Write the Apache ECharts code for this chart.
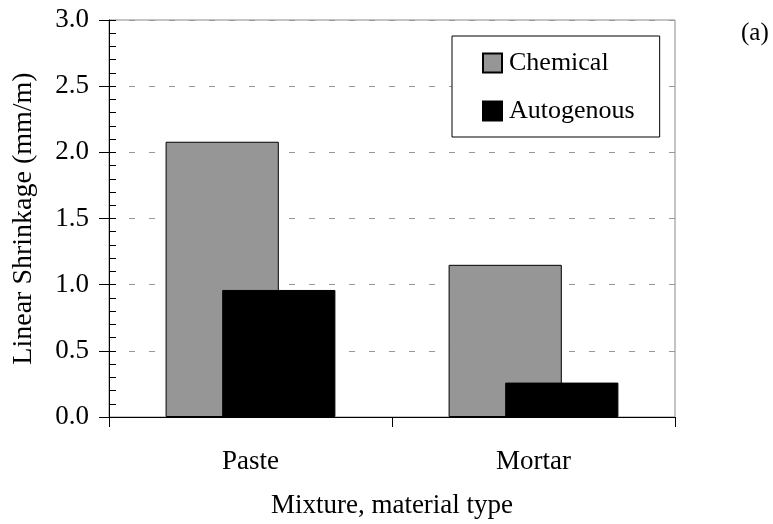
<!DOCTYPE html>
<html>
<head>
<meta charset="utf-8">
<script src="https://cdn.jsdelivr.net/npm/echarts@6/dist/echarts.min.js"></script>
<style>
  html, body { margin: 0; padding: 0; background: #fff; }
  #chart { width: 773px; height: 524px; }
</style>
</head>
<body>
<div id="chart"></div>
<script>
// data
const categories = ['Paste', 'Mortar']
const chemical = [2.08, 1.15]
const autogenous = [0.96, 0.26]
const seriesNames = ['Chemical', 'Autogenous']

const font = 'Liberation Serif'

const chart = echarts.init(document.getElementById('chart'))

chart.setOption({
  backgroundColor: '#fff',
  animation: false,
  textStyle: { fontFamily: font, color: '#000' },
  grid: {
    left: 109,
    right: 98,
    top: 20,
    bottom: 107,
    outerBoundsMode: 'none',
    show: true,
    borderColor: '#8a8a8a',
    borderWidth: 1
  },
  legend: {
    data: seriesNames,
    orient: 'vertical',
    left: 452,
    top: 36,
    width: 206,
    padding: [14, 25, 13, 30],
    itemGap: 22,
    itemWidth: 19,
    itemHeight: 19,
    icon: 'rect',
    backgroundColor: '#fff',
    borderColor: '#000',
    borderWidth: 1,
    textStyle: { fontFamily: font, fontSize: 26, color: '#000', padding: [0, 0, 0, 2] }
  },
  graphic: [{
    type: 'text',
    left: 741,
    top: 21,
    style: { text: '(a)', font: '25px "Liberation Serif"', fill: '#000' }
  }],
  xAxis: {
    type: 'category',
    data: categories,
    name: 'Mixture, material type',
    nameLocation: 'middle',
    nameGap: 75,
    nameTextStyle: { fontFamily: font, fontSize: 27, color: '#000' },
    axisLine: { lineStyle: { color: '#000', width: 1 } },
    axisTick: { show: true, length: 10, lineStyle: { color: '#000' } },
    axisLabel: { margin: 31, fontFamily: font, fontSize: 27, color: '#000' },
    splitLine: { show: false }
  },
  yAxis: [{
    type: 'value',
    min: 0,
    max: 3,
    interval: 0.5,
    name: 'Linear Shrinkage (mm/m)',
    nameLocation: 'middle',
    nameGap: 71,
    nameTextStyle: { fontFamily: font, fontSize: 28, color: '#000' },
    axisLine: { show: true, lineStyle: { color: '#000', width: 1 } },
    axisTick: { show: true, length: 10, lineStyle: { color: '#000' } },
    axisLabel: {
      margin: 20,
      fontFamily: font,
      fontSize: 27,
      color: '#000',
      formatter: v => v.toFixed(1)
    },
    splitLine: { show: true, lineStyle: { color: '#999', type: [6, 14], width: 1 } }
  }, {
    // inside minor ticks every 0.1
    type: 'value',
    position: 'left',
    min: 0,
    max: 3,
    interval: 0.1,
    axisLine: { show: false },
    axisTick: { show: true, inside: true, length: 7, lineStyle: { color: '#000' } },
    axisLabel: { show: false },
    splitLine: { show: false }
  }],
  series: [{
    name: seriesNames[0],
    type: 'bar',
    data: chemical,
    barWidth: '40%',
    barGap: '-50%',
    itemStyle: { color: '#969696', borderColor: '#000', borderWidth: 1 }
  }, {
    name: seriesNames[1],
    type: 'bar',
    data: autogenous,
    barWidth: '40%',
    barGap: '-50%',
    itemStyle: { color: '#000', borderColor: '#000', borderWidth: 1 }
  }]
})
</script>
</body>
</html>
